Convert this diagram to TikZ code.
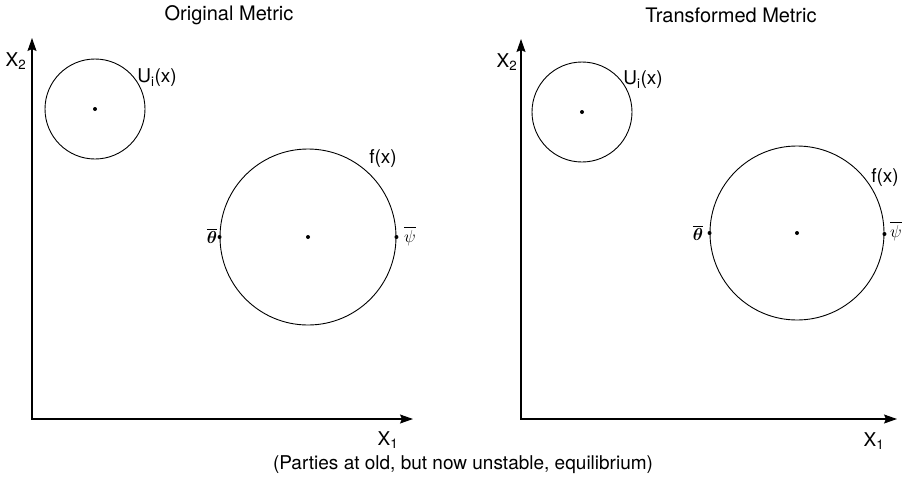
\documentclass[tikz,border=0pt]{standalone}
\usepackage{fontspec}
\setmainfont{TeX Gyre Heros}
\usepackage{amsmath,bm}
\usetikzlibrary{arrows.meta}
\begin{document}
\begin{tikzpicture}[x=1pt,y=-1pt,
  axis/.style={line width=1.1pt,{Stealth[length=13pt,width=9pt,inset=2pt]}-{Stealth[length=13pt,width=9pt,inset=2pt]}},
  ring/.style={draw,circle,line width=0.9pt,inner sep=0pt},
  dot/.style={circle,fill,inner sep=0pt,minimum size=4pt},
  lbl/.style={font=\fontsize{19}{22}\selectfont,inner sep=0pt},
  ttl/.style={font=\fontsize{20}{23}\selectfont,inner sep=0pt}]
\useasboundingbox (0,0) rectangle (902,488);
% ---------- left panel ----------
\node[ttl] (t1) at (229,15) {Original Metric};
\coordinate (O1) at (32,419);
\coordinate (Y1) at (32,38);
\coordinate (E1) at (413,419);
\draw[axis] (Y1) -- (O1) -- (E1);
\node[lbl] (x2a) at (16,61) {X\textsubscript{2}};
\node[lbl] (x1a) at (388,440) {X\textsubscript{1}};
\node[ring,minimum size=100pt] (U1) at (95,109) {};
\node[dot] (u1c) at (U1.center) {};
\node[lbl] (u1l) at (157,78) {U\textsubscript{i}(x)};
\node[ring,minimum size=176pt] (F1) at (308,237) {};
\node[dot] (f1c) at (F1.center) {};
\node[dot] (th1) at (F1.west) {};
\node[dot] (ps1) at (F1.east) {};
\node[lbl] (f1l) at (383,159) {f(x)};
\node[lbl] (th1l) at (212,236) {$\overline{\bm\theta}$};
\node[lbl] (ps1l) at (410,236) {$\overline{\psi}$};
% ---------- right panel ----------
\node[ttl] (t2) at (731,15) {Transformed Metric};
\coordinate (O2) at (521,419);
\coordinate (Y2) at (521,39);
\coordinate (E2) at (897,419);
\draw[axis] (Y2) -- (O2) -- (E2);
\node[lbl] (x2b) at (507,62) {X\textsubscript{2}};
\node[lbl] (x1b) at (874,441) {X\textsubscript{1}};
\node[ring,minimum size=100pt] (U2) at (582,112) {};
\node[dot] (u2c) at (U2.center) {};
\node[lbl] (u2l) at (643,80) {U\textsubscript{i}(x)};
\node[ring,minimum size=174pt] (F2) at (797,233) {};
\node[dot] (f2c) at (F2.center) {};
\node[dot] (th2) at (F2.west) {};
\node[dot] (ps2) at ([yshift=-1pt]F2.east) {};
\node[lbl] (f2l) at (885,178) {f(x)};
\node[lbl] (th2l) at (698,233) {$\overline{\bm\theta}$};
\node[lbl] (ps2l) at (896,231) {$\overline{\psi}$};
% ---------- caption ----------
\node[lbl] (cap) at (463,465) {(Parties at old, but now unstable, equilibrium)};
\end{tikzpicture}
\end{document}
